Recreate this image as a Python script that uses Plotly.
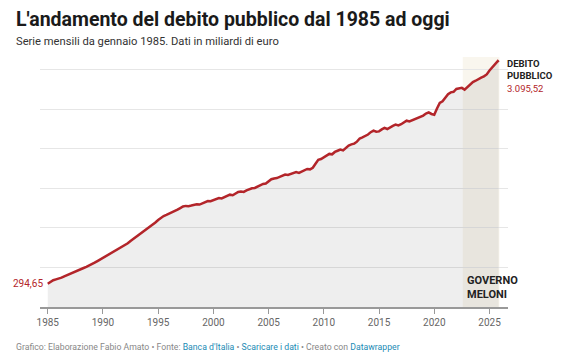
import plotly.graph_objects as go

years = list(range(1985, 2026))
quarter_months = ["01", "04", "07", "10"]

debt_q = [
    [294.65, 318, 338, 350],     # 1985
    [358, 372, 388, 402],        # 1986
    [415, 430, 447, 462],        # 1987
    [478, 493, 508, 523],        # 1988
    [540, 560, 580, 600],        # 1989
    [620, 645, 665, 685],        # 1990
    [700, 718, 738, 760],        # 1991
    [780, 805, 835, 860],        # 1992
    [885, 910, 940, 965],        # 1993
    [995, 1020, 1045, 1068],     # 1994
    [1100, 1130, 1150, 1165],    # 1995
    [1180, 1205, 1218, 1230],    # 1996
    [1250, 1270, 1278, 1275],    # 1997
    [1282, 1290, 1298, 1295],    # 1998
    [1310, 1330, 1340, 1338],    # 1999
    [1352, 1368, 1378, 1372],    # 2000
    [1390, 1405, 1420, 1412],    # 2001
    [1435, 1455, 1460, 1455],    # 2002
    [1475, 1490, 1500, 1505],    # 2003
    [1520, 1545, 1555, 1560],    # 2004
    [1590, 1615, 1625, 1630],    # 2005
    [1645, 1665, 1675, 1670],    # 2006
    [1685, 1700, 1705, 1695],    # 2007
    [1710, 1730, 1745, 1740],    # 2008
    [1760, 1810, 1860, 1870],    # 2009
    [1890, 1915, 1935, 1930],    # 2010
    [1960, 1975, 1990, 1980],    # 2011
    [2010, 2040, 2055, 2065],    # 2012
    [2090, 2130, 2145, 2160],    # 2013
    [2180, 2210, 2230, 2215],    # 2014
    [2220, 2245, 2265, 2250],    # 2015
    [2265, 2290, 2305, 2295],    # 2016
    [2310, 2335, 2355, 2345],    # 2017
    [2360, 2385, 2395, 2405],    # 2018
    [2420, 2445, 2460, 2440],    # 2019
    [2431, 2510, 2579, 2600],    # 2020
    [2640, 2690, 2713, 2720],    # 2021
    [2756, 2760, 2770, 2747],    # 2022
    [2780, 2815, 2844, 2860],    # 2023
    [2875, 2900, 2915, 2940],    # 2024
    [2990, 3030, 3060, 3108],    # 2025
]
last_date = "2025-11-01"
last_value = 3095.52

dates = []
values = []
for y, row in zip(years, debt_q):
    for m, v in zip(quarter_months, row):
        dates.append(f"{y}-{m}-01")
        values.append(v)
dates.append(last_date)
values.append(last_value)

tick_years = [1985, 1990, 1995, 2000, 2005, 2010, 2015, 2020, 2025]
meloni_start = "2022-08-01"
meloni_end = "2025-11-25"

RED = "#b3252a"
FONT = "Roboto"

fig = go.Figure()
fig.add_trace(go.Scatter(
    x=dates, y=values, mode="lines",
    line=dict(color=RED, width=2.5),
    fill="tozeroy", fillcolor="rgba(0,0,0,0.065)",
    hoverinfo="skip", showlegend=False,
))

fig.add_shape(type="rect", xref="x", yref="paper",
              x0=meloni_start, x1=meloni_end, y0=0, y1=1,
              fillcolor="#f9f6ee", line_width=0, layer="below")

def fmt_it(v):
    s = f"{v:,.2f}"
    return s.replace(",", "X").replace(".", ",").replace("X", ".")

annotations = [
    dict(x=dates[0], y=values[0], xref="x", yref="y", text=fmt_it(values[0]),
         showarrow=False, xanchor="right", yanchor="middle", xshift=-3,
         font=dict(family=FONT, size=10, color=RED)),
    dict(x=dates[-1], y=values[-1], xref="x", yref="y",
         text="<b>DEBITO</b><br><b>PUBBLICO</b><br><span style='color:%s'>%s</span>" % (RED, fmt_it(values[-1])),
         showarrow=False, xanchor="left", yanchor="top", yshift=6, xshift=6, align="left",
         font=dict(family=FONT, size=9.5, color="#222")),
    dict(x=meloni_start, y=0.08, xref="x", yref="paper",
         text="<b>GOVERNO</b><br><b>MELONI</b>",
         showarrow=False, xanchor="left", yanchor="middle", xshift=2, align="left",
         font=dict(family=FONT, size=11, color="#222")),
    dict(x=-0.056, y=1.15, xref="paper", yref="paper",
         text="<b>L'andamento del debito pubblico dal 1985 ad oggi</b>",
         showarrow=False, xanchor="left", yanchor="middle",
         font=dict(family=FONT, size=19.5, color="#1a1a1a")),
    dict(x=-0.056, y=1.06, xref="paper", yref="paper",
         text="Serie mensili da gennaio 1985. Dati in miliardi di euro",
         showarrow=False, xanchor="left", yanchor="middle",
         font=dict(family=FONT, size=11.2, color="#333")),
    dict(x=-0.056, y=-0.16, xref="paper", yref="paper",
         text=("Grafico: Elaborazione Fabio Amato • Fonte: "
               "<span style='color:#1b8bb5'>Banca d'Italia</span> • "
               "<span style='color:#1b8bb5'>Scaricare i dati</span> • Creato con "
               "<span style='color:#1b8bb5'>Datawrapper</span>"),
         showarrow=False, xanchor="left", yanchor="middle",
         font=dict(family=FONT, size=8.7, color="#888")),
]

# The page body has an 8px margin, so the figure is sized/offset to compensate.
fig.update_layout(
    width=553, height=354,
    margin=dict(l=32, r=53, t=49, b=55),
    paper_bgcolor="white", plot_bgcolor="white",
    font=dict(family=FONT),
    annotations=annotations,
    xaxis=dict(
        type="date",
        range=["1984-04-20", "2026-09-05"],
        tickvals=[f"{y}-01-01" for y in tick_years],
        ticktext=[str(y) for y in tick_years],
        ticks="outside", ticklen=5, tickcolor="#999", tickwidth=1,
        showline=True, linecolor="#999", linewidth=2,
        showgrid=False, zeroline=False,
        tickfont=dict(family=FONT, size=10, color="#666"),
    ),
    yaxis=dict(
        range=[0, 3160], dtick=500, tick0=0,
        showticklabels=False, showgrid=True, gridcolor="#e6e6e6", gridwidth=1,
        zeroline=False, showline=False, ticks="",
    ),
)

fig.write_html("out.html")
